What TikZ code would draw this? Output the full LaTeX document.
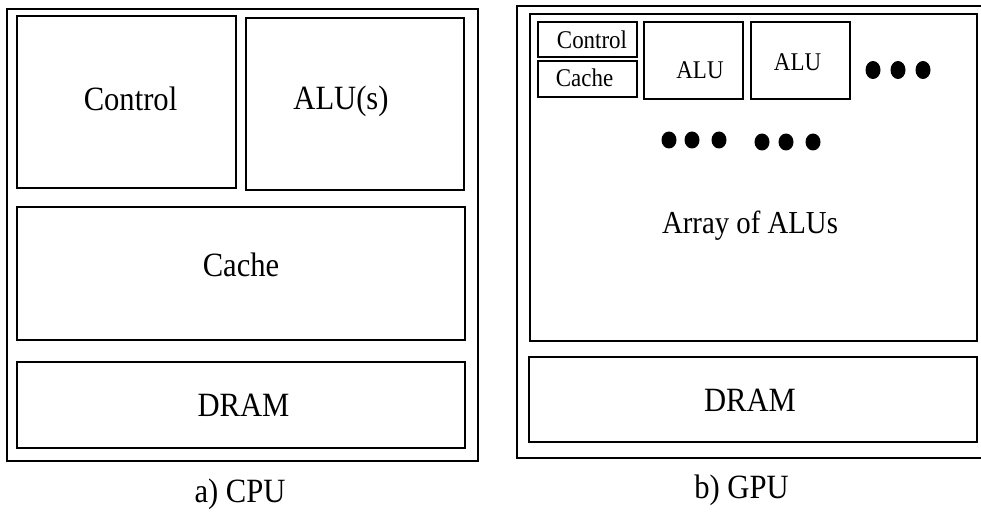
\documentclass[tikz,border=0pt]{standalone}
\usepackage{fontspec}
\setmainfont{Liberation Serif}[FakeStretch=0.9]
\tikzset{
  chipbox/.style={rectangle, draw=black, line width=2.8pt, fill=none, inner sep=0pt},
  bigtext/.style={anchor=base, inner sep=0pt, font=\fontsize{34}{40}\selectfont},
  midtext/.style={anchor=base, inner sep=0pt, font=\fontsize{32}{38}\selectfont},
  smalltext/.style={anchor=base, inner sep=0pt, font=\fontsize{25.5}{30}\selectfont}
}
\begin{document}
\begin{tikzpicture}[x=1pt, y=-1pt]
  \clip (0,0) rectangle (981,513);
  % CPU
  \node[chipbox, minimum width=471pt, minimum height=452pt] (cpu) at (242.5,235) {};
  \node[chipbox, minimum width=219pt, minimum height=172pt] (cpuctrl) at (126.5,102) {};
  \node[chipbox, minimum width=218pt, minimum height=172pt] (cpualu) at (355,104) {};
  \node[chipbox, minimum width=448pt, minimum height=133pt] (cpucache) at (241,273.5) {};
  \node[chipbox, minimum width=448pt, minimum height=86pt] (cpudram) at (241,405) {};

  \node[bigtext] (cpuctrltxt) at (130.5,111) {Control};
  \node[bigtext] (cpualutxt) at (341,110) {ALU(s)};
  \node[bigtext] (cpucachetxt) at (241,276) {Cache};
  \node[bigtext] (cpudramtxt) at (243.5,416) {DRAM};
  \node[bigtext] (cpucap) at (240,502) {a) CPU};

  % GPU
  \node[chipbox, minimum width=478pt, minimum height=452pt] (gpu) at (756,232) {};
  \node[chipbox, minimum width=447pt, minimum height=327pt] (gpuarray) at (753.5,177.5) {};
  \node[chipbox, minimum width=99pt, minimum height=35pt] (gpuctrl) at (587.5,39.5) {};
  \node[chipbox, minimum width=99pt, minimum height=36pt] (gpucache) at (587.5,79) {};
  \node[chipbox, minimum width=99pt, minimum height=77pt] (gpualuA) at (693.5,60.5) {};
  \node[chipbox, minimum width=99pt, minimum height=77pt] (gpualuB) at (800.5,60.5) {};
  \node[chipbox, minimum width=448pt, minimum height=85pt] (gpudram) at (753,399.5) {};

  \node[smalltext] (gpuctrltxt) at (592,49) {Control};
  \node[smalltext] (gpucachetxt) at (584.5,87) {Cache};
  \node[smalltext] (gpualuAtxt) at (700,79) {ALU};
  \node[smalltext] (gpualuBtxt) at (797.5,71) {ALU};
  \node[midtext] (gpuarraytxt) at (750,233) {Array of ALUs};
  \node[bigtext] (gpudramtxt) at (750,411) {DRAM};
  \node[bigtext] (gpucap) at (741.5,498) {b) GPU};

  % dots
  \foreach \x in {873,898,923} \fill (\x,70) ellipse (7.5 and 9);
  \foreach \x in {669,692,719} \fill (\x,140) ellipse (7.5 and 8.5);
  \foreach \x in {762,786,813} \fill (\x,142) ellipse (7.5 and 8.5);
\end{tikzpicture}
\end{document}
